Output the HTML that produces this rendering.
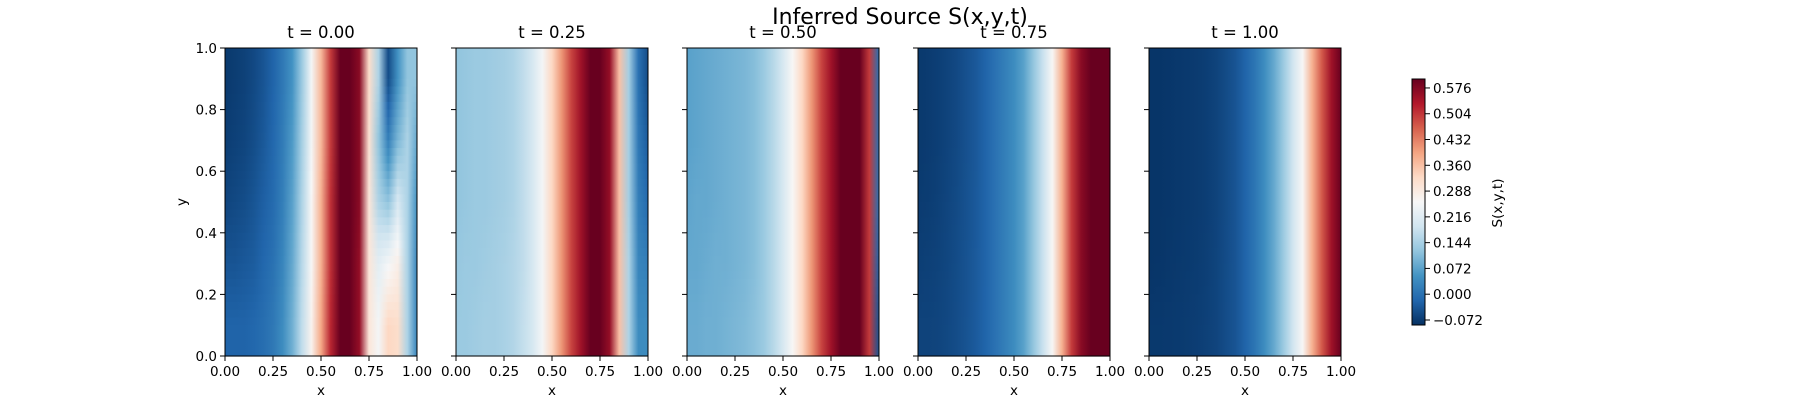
<!DOCTYPE html>
<html><head><meta charset="utf-8">
<style>
html,body{margin:0;padding:0;background:#fff;}
svg{display:block;font-family:"DejaVu Sans","Liberation Sans",sans-serif;}
</style></head>
<body>
<svg id="fig" width="1800" height="400" viewBox="0 0 1800 400">
<defs id="defs"></defs>
<text x="900" y="24" font-size="22" text-anchor="middle" fill="#000">Inferred Source S(x,y,t)</text>
<g id="panels"></g>
<g id="cbar"></g>
</svg>
<script>
// ---- data ----
const times = ["t = 0.00","t = 0.25","t = 0.50","t = 0.75","t = 1.00"];
const xGrid = [0,0.05,0.1,0.15,0.2,0.25,0.3,0.35,0.4,0.45,0.5,0.55,0.6,0.65,0.7,0.75,0.8,0.85,0.9,0.95,1.0];
const yRows = [0.9,0.7,0.5,0.3,0.1];
const xTicks = [0,0.25,0.5,0.75,1.0];
const xTickLabels = ["0.00","0.25","0.50","0.75","1.00"];
const yTicks = [0,0.2,0.4,0.6,0.8,1.0];
const yTickLabels = ["0.0","0.2","0.4","0.6","0.8","1.0"];
const cbTicks = [-0.072,0,0.072,0.144,0.216,0.288,0.360,0.432,0.504,0.576];
const cbTickLabels = ["\u22120.072","0.000","0.072","0.144","0.216","0.288","0.360","0.432","0.504","0.576"];
const vmin = -0.086, vmax = 0.601;
// values per panel, rows top (y=0.9) to bottom (y=0.1)
const S_t000 = [
 [-0.075,-0.07,-0.065,-0.055,-0.04,-0.02,0.01,0.05,0.13,0.25,0.37,0.5,0.6,0.6,0.57,0.32,0.15,-0.05,0.05,0.12,0.12],
 [-0.07,-0.065,-0.06,-0.05,-0.035,-0.015,0.015,0.06,0.14,0.25,0.37,0.5,0.6,0.6,0.57,0.31,0.12,0.02,0.1,0.15,0.08],
 [-0.06,-0.055,-0.05,-0.04,-0.025,-0.01,0.02,0.07,0.15,0.26,0.38,0.51,0.6,0.6,0.57,0.3,0.15,0.12,0.2,0.15,0.05],
 [-0.04,-0.04,-0.035,-0.03,-0.015,0.0,0.03,0.08,0.16,0.26,0.38,0.51,0.6,0.6,0.56,0.3,0.22,0.25,0.28,0.15,0.03],
 [-0.02,-0.02,-0.02,-0.015,-0.005,0.01,0.04,0.09,0.17,0.27,0.39,0.52,0.6,0.6,0.56,0.3,0.25,0.33,0.32,0.15,0.03]
];
const S_t025 = [
 [0.12,0.125,0.13,0.13,0.135,0.14,0.15,0.17,0.2,0.25,0.33,0.41,0.49,0.55,0.6,0.6,0.56,0.36,0.14,0.0,-0.05],
 [0.12,0.125,0.13,0.13,0.135,0.14,0.15,0.17,0.2,0.25,0.33,0.41,0.49,0.55,0.6,0.6,0.56,0.36,0.14,0.01,-0.03],
 [0.12,0.125,0.13,0.13,0.135,0.14,0.15,0.17,0.2,0.25,0.33,0.41,0.49,0.55,0.6,0.6,0.56,0.36,0.14,0.02,-0.01],
 [0.125,0.13,0.13,0.135,0.14,0.145,0.155,0.17,0.2,0.25,0.33,0.41,0.49,0.55,0.6,0.6,0.56,0.36,0.15,0.03,0.02],
 [0.13,0.13,0.135,0.14,0.14,0.145,0.155,0.175,0.2,0.25,0.33,0.41,0.49,0.55,0.6,0.6,0.56,0.36,0.15,0.04,0.04]
];
const S_t050 = [
 [0.07,0.075,0.08,0.085,0.09,0.095,0.1,0.11,0.13,0.16,0.2,0.26,0.33,0.41,0.49,0.55,0.6,0.6,0.6,0.5,0.0],
 [0.07,0.075,0.08,0.085,0.09,0.095,0.1,0.11,0.13,0.16,0.2,0.26,0.33,0.41,0.49,0.55,0.6,0.6,0.6,0.5,0.0],
 [0.075,0.08,0.08,0.085,0.09,0.095,0.1,0.11,0.13,0.16,0.2,0.26,0.33,0.41,0.49,0.55,0.6,0.6,0.6,0.5,0.0],
 [0.08,0.08,0.085,0.09,0.09,0.095,0.1,0.11,0.13,0.16,0.2,0.26,0.33,0.41,0.49,0.55,0.6,0.6,0.6,0.5,-0.02],
 [0.085,0.085,0.09,0.09,0.095,0.1,0.105,0.115,0.13,0.16,0.2,0.26,0.33,0.41,0.49,0.55,0.6,0.6,0.6,0.5,-0.04]
];
const S_t075 = [
 [-0.075,-0.072,-0.068,-0.062,-0.055,-0.045,-0.035,-0.02,0.0,0.02,0.04,0.07,0.12,0.18,0.26,0.38,0.5,0.57,0.6,0.6,0.6],
 [-0.075,-0.072,-0.068,-0.062,-0.055,-0.045,-0.035,-0.02,0.0,0.02,0.04,0.07,0.12,0.18,0.26,0.38,0.5,0.57,0.6,0.6,0.6],
 [-0.072,-0.07,-0.066,-0.06,-0.053,-0.044,-0.034,-0.02,0.0,0.02,0.04,0.07,0.12,0.18,0.26,0.38,0.5,0.57,0.6,0.6,0.6],
 [-0.068,-0.066,-0.063,-0.058,-0.051,-0.043,-0.033,-0.02,0.0,0.02,0.04,0.07,0.12,0.18,0.26,0.38,0.5,0.57,0.6,0.6,0.6],
 [-0.062,-0.062,-0.06,-0.056,-0.05,-0.042,-0.032,-0.019,0.0,0.02,0.04,0.07,0.12,0.18,0.26,0.38,0.5,0.57,0.6,0.6,0.6]
];
const S_t100 = [
 [-0.08,-0.08,-0.078,-0.076,-0.074,-0.072,-0.068,-0.062,-0.052,-0.04,-0.02,0.005,0.04,0.08,0.13,0.19,0.26,0.38,0.47,0.55,0.6],
 [-0.08,-0.08,-0.078,-0.076,-0.074,-0.072,-0.068,-0.062,-0.052,-0.04,-0.02,0.005,0.04,0.08,0.13,0.19,0.26,0.38,0.47,0.55,0.6],
 [-0.08,-0.08,-0.078,-0.076,-0.074,-0.072,-0.068,-0.062,-0.052,-0.04,-0.02,0.005,0.04,0.08,0.13,0.19,0.26,0.38,0.47,0.55,0.6],
 [-0.08,-0.079,-0.077,-0.075,-0.073,-0.071,-0.067,-0.061,-0.051,-0.04,-0.02,0.005,0.04,0.08,0.13,0.19,0.26,0.38,0.47,0.55,0.6],
 [-0.075,-0.075,-0.074,-0.073,-0.071,-0.069,-0.065,-0.06,-0.05,-0.04,-0.02,0.005,0.04,0.08,0.13,0.19,0.26,0.38,0.47,0.55,0.6]
];
const fields = [S_t000,S_t025,S_t050,S_t075,S_t100];

// ---- layout ----
const NS="http://www.w3.org/2000/svg";
const panelLeft0=225, panelStep=231, pw=192, plotTop=48, plotBottom=356, ph=plotBottom-plotTop;
const nBands=40;
const RdBu=["#053061","#2166ac","#4393c3","#92c5de","#d1e5f0","#f7f7f7","#fddbc7","#f4a582","#d6604d","#b2182b","#67001f"];
function hex(h){return [parseInt(h.substr(1,2),16),parseInt(h.substr(3,2),16),parseInt(h.substr(5,2),16)];}
function cmap(v){
  let f=(v-vmin)/(vmax-vmin); f=Math.max(0,Math.min(1,f));
  const p=f*(RdBu.length-1), i=Math.min(Math.floor(p),RdBu.length-2), r=p-i;
  const a=hex(RdBu[i]), b=hex(RdBu[i+1]);
  return "rgb("+a.map((c,k)=>Math.round(c+(b[k]-c)*r)).join(",")+")";
}
// value of field F at row position y (blend between neighbouring data rows)
function rowAt(F,y){
  if(y>=yRows[0]) return F[0];
  const n=yRows.length;
  if(y<=yRows[n-1]) return F[n-1];
  for(let r=0;r<n-1;r++){
    if(y<=yRows[r] && y>=yRows[r+1]){
      const w=(yRows[r]-y)/(yRows[r]-yRows[r+1]);
      return F[r].map((v,i)=>v*(1-w)+F[r+1][i]*w);
    }
  }
  return F[0];
}
function el(tag,attrs,parent){const e=document.createElementNS(NS,tag);for(const k in attrs)e.setAttribute(k,attrs[k]);parent.appendChild(e);return e;}
const defs=document.getElementById('defs');
const panels=document.getElementById('panels');
let gid=0;
fields.forEach((F,p)=>{
  const L=panelLeft0+p*panelStep;
  const xs=x=>L+x*pw, ys=y=>plotBottom-y*ph;
  const g=el('g',{},panels);
  
  
  const bandH=ph/nBands;
  for(let b=0;b<nBands;b++){
    const yc=1-(b+0.5)/nBands;
    const row=rowAt(F,yc);
    const y0=ys(1-b/nBands);
    const id='g'+(gid++);
    const lg=el('linearGradient',{id:id,x1:0,x2:1,y1:0,y2:0},defs);
    for(let i=0;i<xGrid.length;i++){
      el('stop',{offset:xGrid[i],'stop-color':cmap(row[i])},lg);
    }
    const c=el('rect',{x:xs(0),y:y0,width:pw,height:bandH+0.6,fill:'url(#'+id+')'},g);
    
    
  }
  const fr=el('rect',{x:L,y:plotTop,width:pw,height:ph,fill:'none',stroke:'#000','stroke-width':1},g);
  
  
  const tt=el('text',{x:L+pw/2,y:38,'font-size':16.5,'text-anchor':'middle'},g);
  tt.textContent=times[p];
  
  
  xTicks.forEach((v,k)=>{
    el('line',{x1:xs(v),x2:xs(v),y1:plotBottom,y2:plotBottom+5,stroke:'#000','stroke-width':1},g);
    const t=el('text',{x:xs(v),y:plotBottom+20,'font-size':13.5,'text-anchor':'middle'},g);
    t.textContent=xTickLabels[k];
    
    
  });
  const xl=el('text',{x:L+pw/2,y:plotBottom+39,'font-size':13.5,'text-anchor':'middle'},g);
  xl.textContent='x';
  
  
  yTicks.forEach((v,k)=>{
    el('line',{x1:L-5,x2:L,y1:ys(v),y2:ys(v),stroke:'#000','stroke-width':1},g);
    if(p===0){
      const t=el('text',{x:L-8,y:ys(v)+5,'font-size':13.5,'text-anchor':'end'},g);
      t.textContent=yTickLabels[k];
      
      
    }
  });
  if(p===0){
    const yl=el('text',{x:0,y:0,'font-size':13.5,'text-anchor':'middle',transform:'translate(186,202) rotate(-90)'},g);
    yl.textContent='y';
    
    
  }
});
// colorbar
const cb=document.getElementById('cbar');


const cbx=1412, cbw=13, cbt=79, cbb=325;
const cy=v=>cbb-(v-vmin)/(vmax-vmin)*(cbb-cbt);
const cg=el('linearGradient',{id:'cbg',x1:0,x2:0,y1:1,y2:0},defs);
RdBu.forEach((c,i)=>el('stop',{offset:i/(RdBu.length-1),'stop-color':c},cg));
el('rect',{x:cbx,y:cbt,width:cbw,height:cbb-cbt,fill:'url(#cbg)',stroke:'#000','stroke-width':1},cb);
cbTicks.forEach((v,k)=>{
  el('line',{x1:cbx+cbw,x2:cbx+cbw+5,y1:cy(v),y2:cy(v),stroke:'#000','stroke-width':1},cb);
  const t=el('text',{x:cbx+cbw+8,y:cy(v)+5,'font-size':13.5},cb);
  t.textContent=cbTickLabels[k];
  
  
});
const cl=el('text',{x:0,y:0,'font-size':13.5,'text-anchor':'middle',transform:'translate(1502,203) rotate(-90)'},cb);
cl.textContent='S(x,y,t)';


</script>
</body></html>
